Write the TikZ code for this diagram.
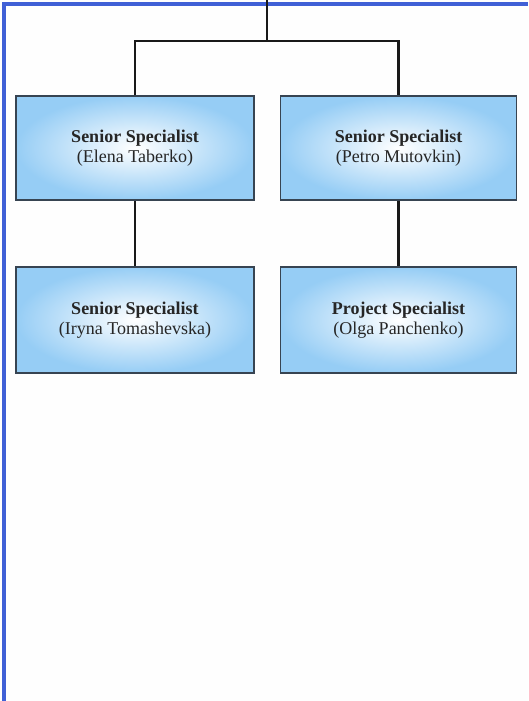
\documentclass[tikz,border=0pt]{standalone}
\usepackage{fontspec}
\setmainfont{Liberation Serif}
\definecolor{boxedge}{RGB}{55,68,82}
\definecolor{boxout}{RGB}{150,205,245}
\definecolor{framecol}{RGB}{64,96,214}
\begin{document}
\begin{tikzpicture}[x=1pt,y=-1pt,
  rolebox/.style={draw=boxedge, line width=1.8pt, inner sep=0pt,
    inner color=white, outer color=boxout,
    align=center, font=\fontsize{18}{20}\selectfont, text=black!85},
  link/.style={draw=black!90, line width=2.6pt}]
\useasboundingbox (0,0) rectangle (528,701);
\fill[white!99!gray] (0,0) rectangle (528,701);
\draw[draw=framecol, line width=3.2pt] (4,701) -- (4,4) -- (528,4);
\node[rolebox, minimum width=238, minimum height=104] (a) at (135,148) {\textbf{Senior Specialist}\\(Elena Taberko)};
\node[rolebox, minimum width=236, minimum height=104] (b) at (398.5,148) {\textbf{Senior Specialist}\\(Petro Mutovkin)};
\node[rolebox, minimum width=238, minimum height=106] (c) at (135,320) {\textbf{Senior Specialist}\\(Iryna Tomashevska)};
\node[rolebox, minimum width=236, minimum height=106] (d) at (398.5,320) {\textbf{Project Specialist}\\(Olga Panchenko)};
\coordinate (top) at (267,0);
\coordinate (j) at (267,41);
\draw[link] (top) -- (j);
\draw[link] (a.north) |- (j) -| (b.north);
\draw[link] (a.south) -- (c.north);
\draw[link] (b.south) -- (d.north);
\end{tikzpicture}
\end{document}
